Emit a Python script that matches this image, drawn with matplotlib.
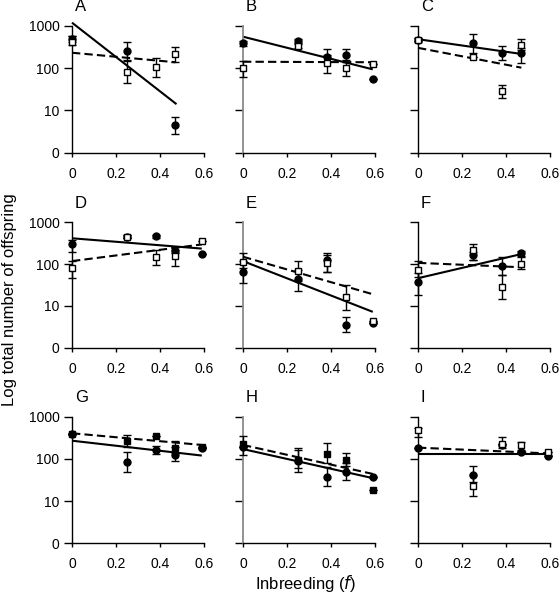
import matplotlib
matplotlib.use("Agg")
import matplotlib.pyplot as plt
import numpy as np

plt.rcParams['font.family'] = ['Liberation Sans', 'DejaVu Sans']

panels = ['A', 'B', 'C', 'D', 'E', 'F', 'G', 'H', 'I']

# ---- Panel A ----
A_circ_f = [0, 0.25, 0.47]
A_circ_n = [480, 250, 4.4]
A_circ_lo = [420, 155, 2.75]
A_circ_hi = [570, 420, 7.1]
A_sq_f = [0, 0.25, 0.38, 0.47]
A_sq_n = [415, 81, 105, 215]
A_sq_lo = [355, 45, 63, 141]
A_sq_hi = [575, 150, 170, 322]
A_solid_f = [0, 0.475]
A_solid_n = [1180, 14]
A_dash_f = [0, 0.47]
A_dash_n = [230, 137]

# ---- Panel B ----
B_circ_f = [0, 0.25, 0.38, 0.47, 0.59]
B_circ_n = [380, 430, 185, 208, 54]
B_circ_lo = [330, 380, 140, 140, 54]
B_circ_hi = [430, 490, 282, 282, 54]
B_sq_f = [0, 0.25, 0.38, 0.47, 0.59]
B_sq_n = [99, 330, 129, 102, 123]
B_sq_lo = [63, 300, 75, 65, 123]
B_sq_hi = [148, 360, 204, 155, 123]
B_solid_f = [0, 0.59]
B_solid_n = [550, 93]
B_dash_f = [0, 0.59]
B_dash_n = [141, 137]

# ---- Panel C ----
C_circ_f = [0, 0.25, 0.38, 0.47]
C_circ_n = [470, 380, 230, 224]
C_circ_lo = [440, 224, 155, 135]
C_circ_hi = [500, 630, 340, 300]
C_sq_f = [0, 0.25, 0.38, 0.47]
C_sq_n = [460, 183, 29, 357]
C_sq_lo = [420, 183, 20, 270]
C_sq_hi = [500, 183, 40, 490]
C_solid_f = [0, 0.47]
C_solid_n = [480, 215]
C_dash_f = [0, 0.47]
C_dash_n = [300, 102]

# ---- Panel D ----
D_circ_f = [0, 0.25, 0.38, 0.47, 0.59]
D_circ_n = [297, 455, 470, 205, 170]
D_circ_lo = [200, 430, 430, 185, 170]
D_circ_hi = [380, 490, 510, 250, 170]
D_sq_f = [0, 0.25, 0.38, 0.47, 0.59]
D_sq_n = [82, 455, 150, 156, 362]
D_sq_lo = [46, 420, 95, 90, 362]
D_sq_hi = [118, 490, 218, 214, 362]
D_solid_f = [0, 0.59]
D_solid_n = [415, 235]
D_dash_f = [0, 0.59]
D_dash_n = [118, 295]

# ---- Panel E ----
E_circ_f = [0, 0.25, 0.38, 0.47, 0.59]
E_circ_n = [66, 44, 126, 3.5, 4]
E_circ_lo = [36, 23, 63, 2.4, 4]
E_circ_hi = [120, 72, 186, 5.3, 4]
E_sq_f = [0, 0.25, 0.38, 0.47, 0.59]
E_sq_n = [114, 69, 105, 16, 4.4]
E_sq_lo = [80, 40, 63, 8, 4.4]
E_sq_hi = [180, 120, 165, 32, 4.4]
E_solid_f = [0, 0.59]
E_solid_n = [118, 7.2]
E_dash_f = [0, 0.59]
E_dash_n = [150, 19]

# ---- Panel F ----
F_circ_f = [0, 0.25, 0.38, 0.47]
F_circ_n = [37, 165, 90, 180]
F_circ_lo = [18, 125, 55, 150]
F_circ_hi = [60, 190, 150, 205]
F_sq_f = [0, 0.25, 0.38, 0.47]
F_sq_n = [72, 218, 28, 100]
F_sq_lo = [50, 125, 15, 75]
F_sq_hi = [118, 295, 55, 160]
F_solid_f = [0, 0.47]
F_solid_n = [46, 174]
F_dash_f = [0, 0.47]
F_dash_n = [107, 84]

# ---- Panel G ----
G_circ_f = [0, 0.25, 0.38, 0.47, 0.59]
G_circ_n = [382, 83, 162, 124, 185]
G_circ_lo = [382, 48, 128, 89, 185]
G_circ_hi = [382, 145, 205, 195, 185]
G_sq_f = [0, 0.25, 0.38, 0.47, 0.59]
G_sq_n = [382, 270, 347, 178, 195]
G_sq_lo = [382, 195, 347, 135, 195]
G_sq_hi = [382, 370, 347, 270, 195]
G_solid_f = [0, 0.59]
G_solid_n = [270, 120]
G_dash_f = [0, 0.59]
G_dash_n = [405, 214]

# ---- Panel H ----
H_circ_f = [0, 0.25, 0.38, 0.47, 0.59]
H_circ_n = [195, 89, 37, 50, 38]
H_circ_lo = [195, 50, 23, 31, 38]
H_circ_hi = [195, 162, 63, 81, 38]
H_sq_f = [0, 0.25, 0.38, 0.47, 0.59]
H_sq_n = [222, 94, 131, 94, 18]
H_sq_lo = [123, 60, 80, 68, 18]
H_sq_hi = [340, 185, 234, 140, 18]
H_solid_f = [0, 0.59]
H_solid_n = [171, 35]
H_dash_f = [0, 0.59]
H_dash_n = [214, 44]

# ---- Panel I ----
I_circ_f = [0, 0.25, 0.38, 0.47, 0.59]
I_circ_n = [178, 42, 214, 148, 120]
I_circ_lo = [178, 28, 178, 148, 120]
I_circ_hi = [178, 68, 336, 148, 120]
I_sq_f = [0, 0.25, 0.38, 0.47, 0.59]
I_sq_n = [480, 23, 222, 214, 148]
I_sq_lo = [330, 13, 222, 160, 148]
I_sq_hi = [540, 42, 222, 255, 148]
I_solid_f = [0, 0.59]
I_solid_n = [129, 129]
I_dash_f = [0, 0.59]
I_dash_n = [185, 135]

x_ticks = [0, 0.2, 0.4, 0.6]
x_ticklabels = ['0', '0.2', '0.4', '0.6']
y_ticks = [1, 10, 100, 1000]
y_ticklabels = ['0', '10', '100', '1000']

filled_square_panels = ['G', 'H']
gray_axis_panels = ['B', 'E', 'H']

W, H = 560, 603
fig = plt.figure(figsize=(W / 100, H / 100), dpi=100)

col_left = [72, 243, 418]
row_top = [25.7, 222.3, 416.7]
row_bottom = [152.7, 347.7, 543.3]
ax_w = 132

g = globals()
for i, p in enumerate(panels):
    r, c = divmod(i, 3)
    left = col_left[c] / W
    bottom = 1 - row_bottom[r] / H
    height = (row_bottom[r] - row_top[r]) / H
    ax = fig.add_axes([left, bottom, ax_w / W, height])
    ax.set_yscale('log')
    ax.set_xlim(0, 0.6)
    ax.set_ylim(1, 1000)
    ax.spines['top'].set_visible(False)
    ax.spines['right'].set_visible(False)
    for s in ['left', 'bottom']:
        ax.spines[s].set_linewidth(1.0)
    if p in gray_axis_panels:
        ax.spines['left'].set_color('#8a8a8a')
        ax.spines['left'].set_linewidth(1.3)
    ax.set_xticks(x_ticks)
    ax.set_xticklabels(x_ticklabels)
    ax.set_yticks(y_ticks)
    ax.yaxis.set_minor_locator(matplotlib.ticker.NullLocator())
    if c == 0:
        ax.set_yticklabels(y_ticklabels)
    else:
        ax.set_yticklabels([])
    ax.tick_params(axis='y', length=6, width=1.0, pad=3, labelsize=10)
    ax.tick_params(axis='x', length=3, width=1.0, pad=7, labelsize=10)

    # regression lines
    ax.plot(g[p + '_solid_f'], g[p + '_solid_n'], color='black', lw=1.5,
            solid_capstyle='butt', zorder=2, clip_on=False)
    ax.plot(g[p + '_dash_f'], g[p + '_dash_n'], color='black', lw=1.5,
            linestyle=(0, (4, 2)), zorder=2, clip_on=False)

    # filled circles
    cf = np.array(g[p + '_circ_f'])
    cn = np.array(g[p + '_circ_n'])
    clo = np.array(g[p + '_circ_lo'])
    chi = np.array(g[p + '_circ_hi'])
    eb = ax.errorbar(cf, cn, yerr=[cn - clo, chi - cn], fmt='o', ms=5,
                     mfc='black', mec='black', ecolor='black', elinewidth=1.0,
                     capsize=3.2, capthick=1.0, zorder=3)
    for art in eb.get_children():
        art.set_clip_on(False)

    # squares
    sf = np.array(g[p + '_sq_f'])
    sn = np.array(g[p + '_sq_n'])
    slo = np.array(g[p + '_sq_lo'])
    shi = np.array(g[p + '_sq_hi'])
    mfc = 'black' if p in filled_square_panels else 'white'
    eb = ax.errorbar(sf, sn, yerr=[sn - slo, shi - sn], fmt='s', ms=5,
                     mfc=mfc, mec='black', mew=1.0, ecolor='black',
                     elinewidth=1.0, capsize=3.2, capthick=1.0, zorder=4)
    for art in eb.get_children():
        art.set_clip_on(False)

    ax.text(0.02, 1.115, p, transform=ax.transAxes, fontsize=12,
            ha='left', va='baseline')

fig.text(10 / W, 1 - 300 / H, 'Log total number of offspring', rotation=90,
         ha='center', va='center', fontsize=12)
fig.text(306 / W, 1 - 583 / H, r'Inbreeding ($\mathit{f}$)', ha='center',
         va='center', fontsize=12)

fig.savefig('out.png', dpi=100)
